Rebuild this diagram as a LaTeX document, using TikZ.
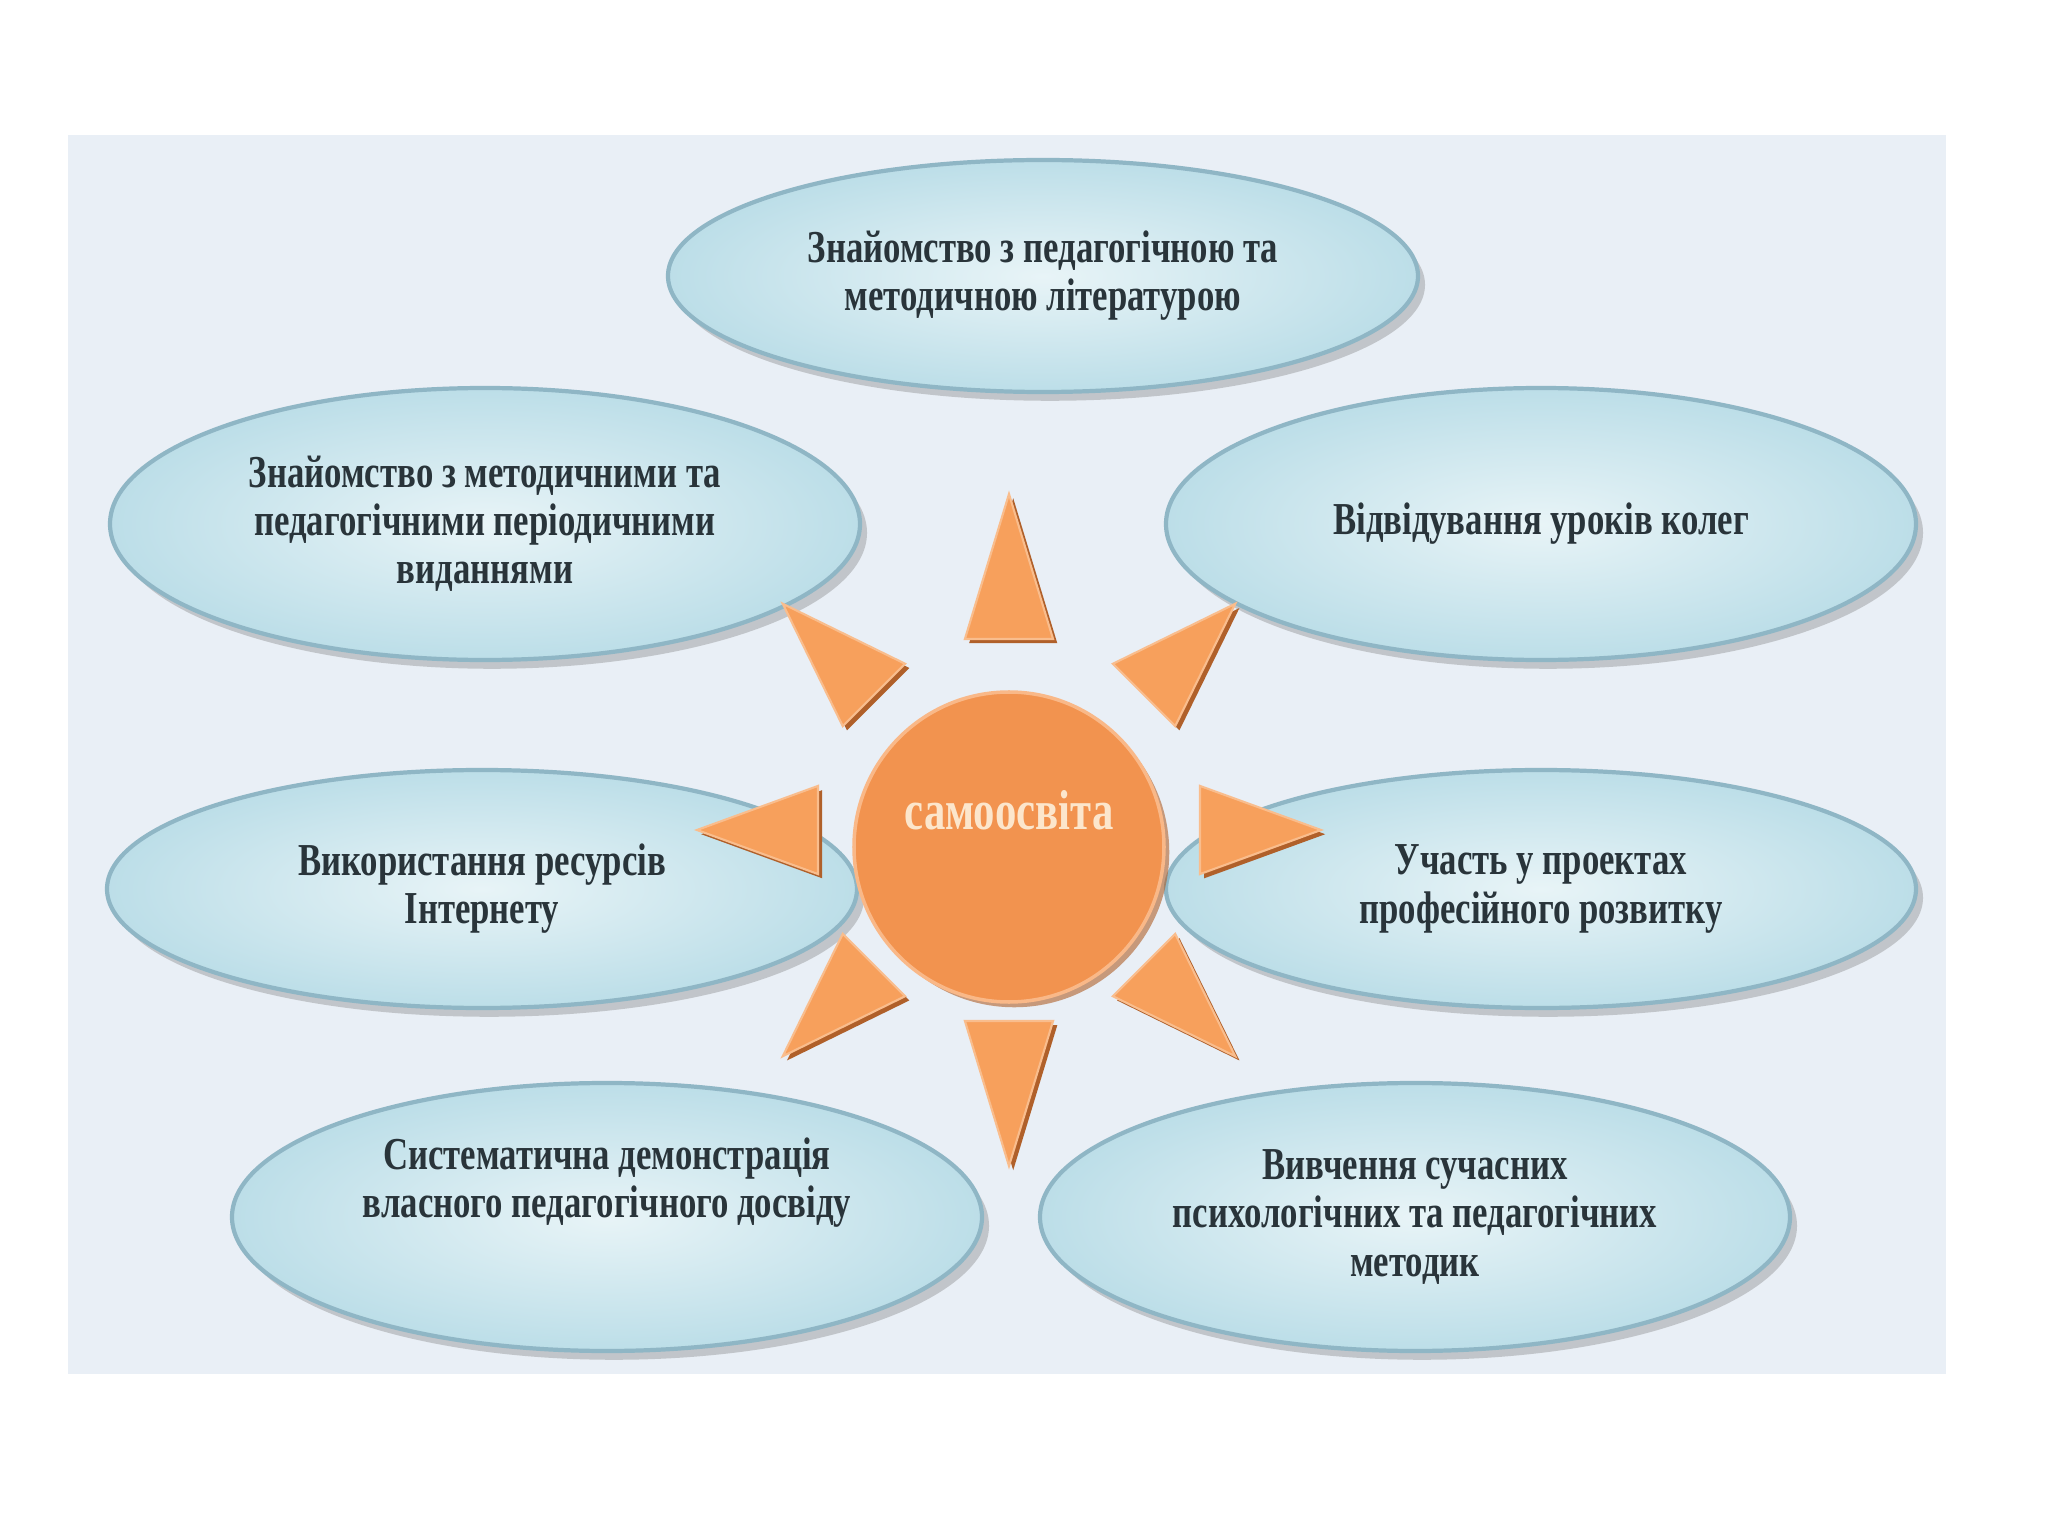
\documentclass[tikz,border=0pt]{standalone}
\usepackage{fontspec}
\newfontfamily\lblfont[FakeStretch=0.76]{Liberation Serif}
\usetikzlibrary{positioning,calc,shapes.geometric,shadows}

\definecolor{panel}{HTML}{E9EFF6}
\definecolor{skyin}{HTML}{E8F4F7}
\definecolor{skyout}{HTML}{BCDEE8}
\definecolor{skyrim}{HTML}{8FB6C5}
\definecolor{sunfill}{HTML}{F2934F}
\definecolor{sunrim}{HTML}{F9B888}
\definecolor{rayfill}{HTML}{F7A05C}
\definecolor{raydark}{HTML}{B0602A}
\definecolor{ink}{HTML}{29343A}
\definecolor{suntext}{HTML}{FCE6CC}

\begin{document}
\begin{tikzpicture}[node distance=2cm,on grid,
  lbl/.style={align=center,text=ink,font=\lblfont\bfseries\fontsize{13}{13.7}\selectfont},
  idea/.style={lbl,ellipse,draw=skyrim,line width=1.2pt,inner color=skyin,outer color=skyout,
    drop shadow={shadow xshift=2pt,shadow yshift=-2.5pt,opacity=.3,fill=black!60},
    minimum width=7.5cm},
  ray/.style={fill=rayfill,draw=rayfill!70!white,line width=.6pt,
    drop shadow={shadow xshift=1.2pt,shadow yshift=-1.2pt,opacity=1,fill=raydark}},
  sun/.style={circle,fill=sunfill,draw=sunrim,line width=1pt,minimum size=3.1cm,
    drop shadow={shadow xshift=1.5pt,shadow yshift=-1.5pt,opacity=.6,fill=raydark}},
  sunword/.style={text=suntext,font=\lblfont\bfseries\fontsize{16}{18}\selectfont}]
  \useasboundingbox (0,0) rectangle (20.48,-15.36);
  \fill[white] (0,0) rectangle (20.48,-15.36);
  \fill[panel] (0.68,-1.35) rectangle (19.46,-13.74);

  \coordinate (c) at (10.09,-8.30);

  % ellipses round the sun
  \node[idea,minimum height=2.32cm] (lit) at (10.43,-2.76)
    {Знайомство з педагогічною та\\методичною літературою};
  \node[idea,minimum height=2.72cm] (per) at (4.85,-5.24)
    {Знайомство з методичними та\\педагогічними періодичними\\виданнями};
  \node[idea,minimum height=2.72cm] (visit) at (15.41,-5.24)
    {Відвідування уроків колег};
  \node[idea,minimum height=2.38cm] (net) at (4.82,-8.89)
    {Використання ресурсів\\Інтернету};
  \node[idea,minimum height=2.38cm] (proj) at (15.41,-8.89)
    {Участь у проектах\\професійного розвитку};
  \node[idea,minimum height=2.68cm] (demo) at (6.07,-12.17) {};
  \node[lbl] (demo-t) at ([yshift=0.34cm]demo.center)
    {Систематична демонстрація\\власного педагогічного досвіду};
  \node[idea,minimum height=2.68cm] (meth) at (14.15,-12.17)
    {Вивчення сучасних\\психологічних та педагогічних\\методик};

  % rays
  \foreach \a/\r in {0/3.12,45/3.2,90/3.36,135/3.2,180/3.12,225/3.2,270/3.36,315/3.2}
    \path[ray] ($(c)+(\a-13:1.96)$) -- ($(c)+(\a:\r)$) -- ($(c)+(\a+13:1.96)$) -- cycle;

  \node[sun] (sun) at ([yshift=-0.17cm]c) {};
  \node[sunword] (word) at ([yshift=0.2cm]c) {самоосвіта};
\end{tikzpicture}
\end{document}
